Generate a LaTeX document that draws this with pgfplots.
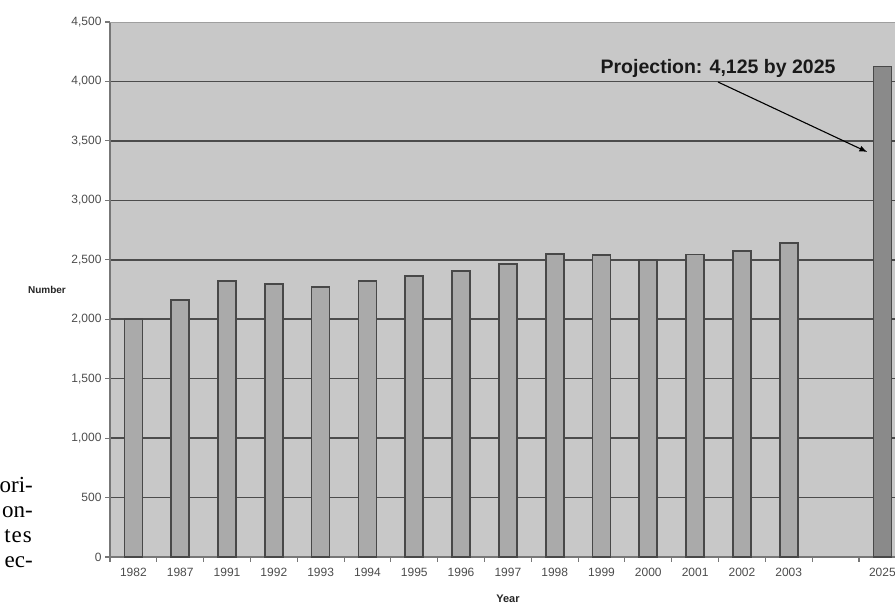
\documentclass[border=0pt]{standalone}
\usepackage{fontspec}
\setmainfont{Liberation Sans}
\newfontfamily\seriffont{Liberation Serif}
\usepackage{pgfplots}
\pgfplotsset{compat=1.18}
\usetikzlibrary{arrows.meta}
\definecolor{bgc}{HTML}{C8C8C8}
\definecolor{barc}{HTML}{AAAAAA}
\definecolor{barcc}{HTML}{8A8A8A}
\definecolor{edgec}{HTML}{484848}
\definecolor{gridc}{HTML}{4C4C4C}
\definecolor{tickc}{HTML}{4C4C4C}
\definecolor{axisc}{HTML}{777777}
\begin{document}
\begin{tikzpicture}[x=1pt,y=1pt]
\useasboundingbox (0,0) rectangle (895,605);
\clip (0,0) rectangle (895,605);
\begin{axis}[
  at={(110pt,48pt)}, anchor=south west,
  scale only axis, width=785pt, height=535pt,
  xmin=-0.5, xmax=16.27, ymin=0, ymax=4500,
  axis lines=left, axis line style={-, draw=axisc, line width=1.8pt},
  axis background/.style={fill=bgc},
  tick align=outside,
  major tick length=5pt, minor tick length=5pt,
  ytick={0,500,...,4000}, extra y ticks={4500},
  extra y tick style={grid style={draw=gray!75, line width=0.7pt}},
  ymajorgrids, grid style={draw=gridc, line width=1.6pt},
  y tick style={draw=axisc, line width=1.1pt},
  xtick={0,...,14,16},
  xticklabels={1982,1987,1991,1992,1993,1994,1995,1996,1997,1998,1999,2000,2001,2002,2003,2025},
  major x tick style={draw=none},
  minor xtick={-0.5,0.5,...,15.5},
  minor x tick style={draw=axisc, line width=1.1pt},
  /pgf/number format/assume math mode=true,
  /pgf/number format/1000 sep={,},
  tick label style={font=\fontsize{12}{14}\selectfont, text=tickc},
  xticklabel style={yshift=-3pt},
  clip=false,
]
\addplot[ybar, bar shift=0pt, bar width=18pt, fill=barc, draw=edgec, line width=1.7pt]
  coordinates {(0,2000) (1,2160) (2,2320) (3,2295) (4,2270) (5,2320) (6,2365) (7,2405)
  (8,2465) (9,2550) (10,2540) (11,2500) (12,2545) (13,2575) (14,2640)};
\addplot[ybar, bar shift=0pt, bar width=18pt, fill=barcc, draw=edgec, line width=1.7pt]
  coordinates {(16,4125)};
\draw[black, line width=1.1pt, -{Latex[length=8pt,width=6pt]}] (axis cs:12.49,3995) -- (axis cs:15.68,3406);
\node[font=\bfseries\fontsize{19.5}{22}\selectfont, text=black!90] at (axis cs:12.49,4113) {Projection: 4,125 by 2025};
\end{axis}
\node[font=\bfseries\fontsize{10}{12}\selectfont, text=black!85] at (47,315) {Number};
\node[font=\bfseries\fontsize{11}{13}\selectfont, text=black!85] at (508,6) {Year};
\node[font=\seriffont\fontsize{23}{25}\selectfont, anchor=base east, inner sep=0pt] at (33,112) {ori-};
\node[font=\seriffont\fontsize{23}{25}\selectfont, anchor=base east, inner sep=0pt] at (33,87) {on-};
\node[font=\seriffont\fontsize{23}{25}\selectfont, anchor=base east, inner sep=0pt] at (32,62) {t\kern1pt e\kern1pt s};
\node[font=\seriffont\fontsize{23}{25}\selectfont, anchor=base east, inner sep=0pt] at (33,37) {ec-};
\end{tikzpicture}
\end{document}
